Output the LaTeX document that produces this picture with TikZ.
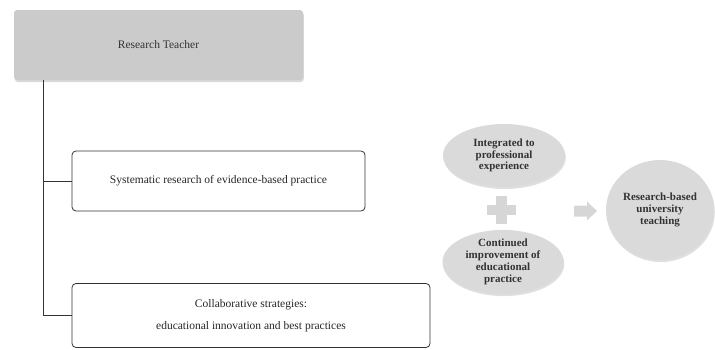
\documentclass[tikz,border=0pt]{standalone}
\usepackage{fontspec}
\setmainfont{Liberation Serif}
\usetikzlibrary{shadows,shapes.geometric}
\definecolor{topfill}{HTML}{CBCBCB}
\definecolor{ellfill}{HTML}{DADADA}
\definecolor{symfill}{HTML}{D6D6D6}
\definecolor{txt}{HTML}{333333}
\tikzset{
  topbox/.style={rectangle, rounded corners=3pt, fill=topfill, text=txt,
    drop shadow={opacity=0.3, shadow xshift=0.8pt, shadow yshift=-2pt},
    font=\fontsize{11.5}{14}\selectfont, inner sep=0pt},
  itembox/.style={rectangle, rounded corners=4pt, draw=black!80, line width=0.8pt,
    fill=white, text=black!85, font=\fontsize{11.5}{22}\selectfont, align=center, inner sep=0pt},
  ell/.style={ellipse, fill=ellfill, text=txt, align=center, inner sep=0pt,
    drop shadow={opacity=0.25, shadow xshift=0.8pt, shadow yshift=-2pt},
    font=\bfseries\fontsize{11}{11.8}\selectfont},
  link/.style={draw=black!80, line width=0.9pt}
}
\begin{document}
\begin{tikzpicture}[x=1pt,y=-1pt]
\useasboundingbox (0,0) rectangle (715,349);
\node[topbox, minimum width=289pt, minimum height=70pt] (top) at (158.5,45) {Research Teacher};
\node[itembox, minimum width=293pt, minimum height=60pt] (b2) at (218.5,181) {Systematic research of evidence-based practice};
\node[itembox, minimum width=358pt, minimum height=64pt] (b3) at (251,315.5) {Collaborative strategies:\\educational innovation and best practices};
\coordinate (c) at (43,315);
\draw[link] (top.south -| c) |- (b3.west);
\draw[link] (b2.west) -- (b2.west -| c);
\node[ell, minimum width=122pt, minimum height=63pt] (e1) at (504,155.5) {Integrated to\\professional\\experience};
\node[ell, minimum width=121pt, minimum height=61pt] (e2) at (503,262) {Continued\\improvement of\\educational\\practice};
\node[ell, minimum width=108pt, minimum height=100pt] (e3) at (660,210) {Research-based\\university\\teaching};
% plus sign
\fill[symfill] (496,196) rectangle (507,224);
\fill[symfill] (487,205) rectangle (516,215);
% arrow
\fill[symfill] (574,205.5) -- (587,205.5) -- (587,201.5) -- (597,211) -- (587,220.5) -- (587,216.5) -- (574,216.5) -- cycle;
\end{tikzpicture}
\end{document}
